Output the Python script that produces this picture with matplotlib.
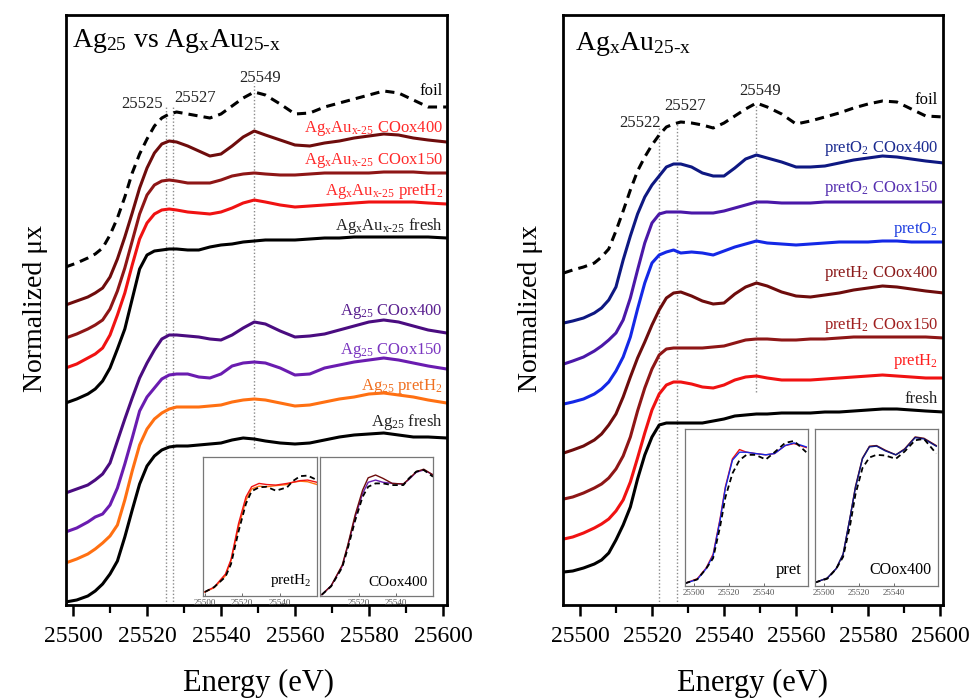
import matplotlib

matplotlib.use("Agg")
import matplotlib.pyplot as plt
from matplotlib.ticker import MultipleLocator

plt.rcParams["font.family"] = ["Liberation Serif", "DejaVu Serif"]
plt.rcParams["mathtext.fontset"] = "custom"
plt.rcParams["mathtext.rm"] = "Liberation Serif"
plt.rcParams["mathtext.it"] = "Liberation Serif:italic"
plt.rcParams["mathtext.bf"] = "Liberation Serif:bold"

# ---- left panel: Ag25 vs AgxAu25-x (offset spectra, arbitrary units) ----
E_LEFT = [25498, 25501, 25504, 25506, 25508, 25510, 25512, 25514, 25516, 25518, 25520, 25522,
          25524, 25526, 25528, 25531, 25534, 25537, 25540, 25543, 25546, 25549, 25552, 25556,
          25560, 25564, 25568, 25572, 25576, 25580, 25584, 25588, 25592, 25596, 25601]
FOIL_LEFT = [338, 342, 347, 351, 357, 370, 387, 408, 432, 451, 466, 479,
             487, 491, 493, 491, 489, 487, 491, 499, 507, 513, 510, 501,
             491, 492, 498, 502, 506, 510, 514, 512, 505, 498, 498]
AGAU_COOX400 = [300, 304, 308, 312, 317, 328, 346, 368, 392, 417, 437, 452,
                461, 464, 463, 459, 454, 449, 451, 459, 468, 474, 470, 465,
                460, 459, 462, 464, 467, 469, 471, 470, 467, 465, 463]
AGAU_COOX150 = [267, 271, 276, 280, 285, 296, 314, 337, 364, 391, 410, 420,
                424, 425, 424, 422, 422, 422, 425, 429, 431, 432, 431, 430,
                430, 431, 432, 432, 432, 432, 433, 433, 433, 432, 432]
AGAU_PRETH2 = [237, 241, 247, 251, 257, 270, 290, 312, 340, 366, 382, 391,
               395, 396, 395, 393, 392, 391, 393, 397, 402, 405, 403, 400,
               398, 399, 400, 401, 402, 403, 403, 403, 403, 402, 401]
AGAU_FRESH = [202, 206, 211, 216, 224, 237, 256, 276, 306, 336, 350, 354,
              355, 356, 356, 355, 355, 358, 360, 361, 363, 364, 365, 365,
              365, 366, 367, 367, 368, 368, 368, 368, 368, 368, 367]
AG25_COOX400 = [112, 116, 120, 125, 131, 142, 164, 186, 207, 227, 242, 255,
                266, 270, 270, 269, 268, 266, 265, 270, 277, 283, 281, 274,
                268, 269, 271, 275, 279, 283, 285, 283, 279, 275, 272]
AG25_COOX150 = [73, 77, 83, 88, 91, 100, 117, 141, 167, 194, 208, 217,
                226, 230, 231, 231, 228, 227, 231, 239, 242, 243, 242, 237,
                230, 231, 237, 240, 243, 245, 247, 245, 242, 239, 236]
AG25_PRETH2 = [42, 46, 51, 56, 62, 69, 80, 105, 134, 160, 176, 186,
               192, 196, 198, 198, 198, 199, 200, 203, 205, 206, 205, 202,
               199, 200, 203, 206, 208, 211, 212, 210, 208, 205, 202]
AG25_FRESH = [3, 5, 9, 14, 21, 31, 44, 68, 95, 121, 139, 149,
              155, 158, 159, 159, 160, 161, 162, 165, 167, 166, 164, 162,
              161, 162, 165, 168, 170, 171, 172, 170, 168, 168, 167]

# ---- right panel: AgxAu25-x ----
E_RIGHT = [25495.5, 25498, 25501, 25504, 25506, 25508, 25510, 25512, 25514, 25516, 25518, 25520,
           25522, 25524, 25526, 25528, 25531, 25534, 25537, 25540, 25543, 25546, 25549, 25552,
           25556, 25560, 25564, 25568, 25572, 25576, 25580, 25584, 25588, 25592, 25596, 25601]
FOIL_RIGHT = [332, 335, 338, 342, 348, 356, 374, 394, 415, 434, 448, 460,
              470, 478, 481, 483, 482, 480, 477, 482, 489, 496, 502, 498,
              491, 481, 484, 488, 492, 497, 501, 504, 503, 496, 489, 488]
PRETO2_COOX400 = [282, 284, 287, 292, 297, 305, 318, 345, 369, 391, 408, 420,
                  429, 438, 441, 441, 438, 432, 429, 429, 437, 446, 450, 447,
                  443, 438, 438, 439, 442, 445, 447, 449, 448, 446, 444, 442]
PRETO2_COOX150 = [241, 244, 248, 254, 259, 265, 272, 285, 307, 335, 362, 382,
                  391, 393, 393, 393, 392, 392, 392, 394, 397, 400, 403, 403,
                  402, 402, 402, 403, 403, 403, 403, 403, 403, 403, 403, 403]
PRETO2 = [201, 203, 206, 211, 216, 223, 234, 248, 268, 296, 322, 342,
          350, 353, 355, 352, 353, 352, 350, 354, 358, 361, 364, 362,
          361, 360, 361, 362, 363, 363, 363, 364, 364, 363, 363, 363]
PRETH2_COOX400 = [152, 155, 159, 165, 171, 180, 191, 208, 228, 247, 263, 280,
                  295, 307, 312, 313, 309, 304, 301, 302, 311, 318, 322, 319,
                  313, 309, 308, 310, 312, 315, 317, 319, 318, 316, 314, 312]
PRETH2_COOX150 = [106, 108, 112, 117, 121, 127, 136, 149, 168, 194, 217, 236,
                  250, 256, 257, 257, 257, 257, 258, 259, 262, 265, 266, 266,
                  265, 265, 266, 266, 267, 268, 268, 268, 268, 268, 268, 267]
PRETH2 = [66, 68, 72, 77, 81, 86, 94, 105, 123, 147, 172, 195,
          211, 220, 223, 223, 221, 218, 217, 220, 225, 228, 229, 227,
          225, 225, 225, 226, 227, 228, 229, 230, 229, 228, 227, 227]
FRESH = [33, 34, 37, 41, 45, 52, 65, 80, 98, 126, 150, 168,
         180, 182, 182, 182, 182, 182, 184, 186, 189, 190, 191, 191,
         192, 192, 192, 193, 193, 194, 195, 196, 196, 195, 194, 193]

# ---- insets (normalized) ----
INSET_E_LEFT = [25500, 25505, 25511, 25514, 25518, 25522, 25525, 25529,
                25533, 25538, 25544, 25547, 25551, 25555, 25560]
INS_L1_DASH = [0.03, 0.074, 0.165, 0.28, 0.57, 0.82, 0.93, 0.965, 0.97, 0.935, 0.965, 1.02, 1.065, 1.07, 1.03]
INS_L1_AG25 = [0.03, 0.068, 0.175, 0.31, 0.61, 0.85, 0.95, 0.975, 0.97, 0.98, 0.99, 1.01, 1.02, 1.015, 0.99]
INS_L1_AGAU = [0.03, 0.074, 0.19, 0.32, 0.64, 0.88, 0.97, 1.0, 0.99, 0.985, 1.0, 1.01, 1.025, 1.03, 1.01]
INS_L2_DASH = [0.006, 0.08, 0.25, 0.42, 0.67, 0.88, 0.97, 1.0, 1.0, 0.985, 0.985, 1.045, 1.106, 1.12, 1.06]
INS_L2_AG25 = [0.006, 0.085, 0.26, 0.44, 0.70, 0.91, 1.01, 1.03, 1.01, 1.0, 0.994, 1.035, 1.10, 1.12, 1.076]
INS_L2_AGAU = [0.006, 0.085, 0.27, 0.45, 0.72, 0.94, 1.05, 1.075, 1.045, 1.0, 0.995, 1.04, 1.105, 1.127, 1.076]

INSET_E_RIGHT = [25495, 25502, 25507, 25511, 25515, 25518, 25522, 25526,
                 25530, 25535, 25541, 25546, 25552, 25557, 25564]
INS_R1_DASH = [0.02, 0.05, 0.13, 0.21, 0.45, 0.67, 0.85, 0.95, 0.99, 0.99, 0.955, 1.01, 1.08, 1.095, 1.01]
INS_R1_H2 = [0.02, 0.055, 0.135, 0.24, 0.51, 0.75, 0.96, 1.03, 1.01, 1.0, 0.99, 1.0, 1.06, 1.075, 1.045]
INS_R1_O2 = [0.02, 0.05, 0.13, 0.23, 0.50, 0.74, 0.95, 1.01, 1.01, 1.0, 0.99, 1.0, 1.06, 1.08, 1.05]
INS_R2_DASH = [0.026, 0.055, 0.128, 0.22, 0.46, 0.69, 0.89, 0.97, 0.99, 0.985, 0.96, 1.015, 1.10, 1.11, 1.0]
INS_R2_H2 = [0.026, 0.06, 0.13, 0.24, 0.52, 0.75, 0.965, 1.055, 1.06, 1.025, 0.99, 1.035, 1.125, 1.115, 1.06]
INS_R2_O2 = [0.026, 0.06, 0.13, 0.24, 0.52, 0.74, 0.96, 1.05, 1.056, 1.02, 0.99, 1.03, 1.12, 1.11, 1.055]

MAROON = "#6e0c0c"
DARKRED = "#8e1616"
RED = "#f01212"
DPURPLE = "#4a0c80"
PURPLE = "#6a1cb0"
ORANGE = "#ff7012"
NAVY = "#0e1882"
INDIGO = "#4a18a8"
BLUE = "#1428e6"

HY = "\u2010"  # typographic hyphen for the subscripts

W, H = 972, 699
fig = plt.figure(figsize=(W / 100, H / 100), dpi=100)


def px_axes(x0, y0, x1, y1):
    return fig.add_axes([x0 / W, 1 - y1 / H, (x1 - x0) / W, (y1 - y0) / H])


def style_main(ax, xlim):
    ax.set_xlim(*xlim)
    ax.set_ylim(0, 590)
    ax.set_yticks([])
    ax.xaxis.set_major_locator(MultipleLocator(20))
    ax.xaxis.set_minor_locator(MultipleLocator(10))
    ax.tick_params(axis="x", which="major", direction="out", length=8, width=1.8,
                   labelsize=17, pad=7, top=False)
    ax.tick_params(axis="x", which="minor", direction="out", length=6, width=1.6, top=False)
    for sp in ax.spines.values():
        sp.set_linewidth(2)


def style_inset(ax, xlim, ylim, ticks):
    ax.set_xlim(*xlim)
    ax.set_ylim(*ylim)
    ax.set_yticks([])
    ax.set_xticks(ticks)
    ax.tick_params(axis="x", direction="in", length=2, width=0.6, labelsize=6.5, pad=2,
                   colors="#555555")
    for sp in ax.spines.values():
        sp.set_linewidth(0.9)
        sp.set_color("#777777")


def vline(ax, x, y0, y1):
    ax.plot([x, x], [y0, y1], color="#8a8a8a", lw=1.0, ls=(0, (1, 1.5)), zorder=1)


def agau(sub):
    return r"Ag$_{\mathrm{x}}$Au$_{\mathrm{" + sub.replace("-", HY) + "}}$"


# ---------------- left panel ----------------
axL = px_axes(66, 15, 447, 605)
style_main(axL, (25498.1, 25601.1))
vline(axL, 25525, 0, 499)
vline(axL, 25527, 0, 499)
vline(axL, 25549, 157, 522)
axL.plot(E_LEFT, FOIL_LEFT, color="black", lw=2.2, ls=(0, (3, 2)))
axL.plot(E_LEFT, AGAU_COOX400, color=MAROON, lw=2.2)
axL.plot(E_LEFT, AGAU_COOX150, color=DARKRED, lw=2.2)
axL.plot(E_LEFT, AGAU_PRETH2, color=RED, lw=2.2)
axL.plot(E_LEFT, AGAU_FRESH, color="black", lw=2.2)
axL.plot(E_LEFT, AG25_COOX400, color=DPURPLE, lw=2.2)
axL.plot(E_LEFT, AG25_COOX150, color=PURPLE, lw=2.2)
axL.plot(E_LEFT, AG25_PRETH2, color=ORANGE, lw=2.2)
axL.plot(E_LEFT, AG25_FRESH, color="black", lw=2.2)

axL.text(0.016, 558, r"Ag$_{25}$ vs " + agau("25-x"), fontsize=20,
         transform=axL.get_yaxis_transform(), va="baseline")
for x, y, s in [(25518.6, 497, "25525"), (25533, 503, "25527"), (25550.5, 523, "25549")]:
    axL.text(x, y, s, fontsize=12, ha="center", va="baseline", color="#222222")

lab_left = [
    (510, "foil", "black"),
    (473, agau("x-25") + " COox400", "#ff2a2a"),
    (441, agau("x-25") + " COox150", "#ff2a2a"),
    (410, agau("x-25") + r" pretH$_2$", "#ff2a2a"),
    (375, agau("x-25") + " fresh", "#222222"),
    (290, r"Ag$_{25}$ COox400", "#5a2090"),
    (251, r"Ag$_{25}$ COox150", "#7a35c0"),
    (215, r"Ag$_{25}$ pretH$_2$", "#f07020"),
    (179, r"Ag$_{25}$ fresh", "#222222"),
]
for y, s, c in lab_left:
    axL.text(25600, y, s, fontsize=12, ha="right", va="baseline", color=c)

# left insets
inL1 = px_axes(203, 457, 317, 596)
style_inset(inL1, (25499, 25560), (-0.006, 1.236), [25500, 25520, 25540])
inL1.plot(INSET_E_LEFT, INS_L1_AG25, color=ORANGE, lw=1.0)
inL1.plot(INSET_E_LEFT, INS_L1_AGAU, color=RED, lw=1.0)
inL1.plot(INSET_E_LEFT, INS_L1_DASH, color="black", lw=1.3, ls=(0, (3, 2)))
inL1.text(0.95, 0.05, r"pretH$_2$", transform=inL1.transAxes, ha="right", va="bottom", fontsize=11)

inL2 = px_axes(320, 457, 433, 596)
style_inset(inL2, (25499, 25560), (-0.006, 1.236), [25520, 25540])
inL2.plot(INSET_E_LEFT, INS_L2_AG25, color=PURPLE, lw=1.0)
inL2.plot(INSET_E_LEFT, INS_L2_AGAU, color=MAROON, lw=1.0)
inL2.plot(INSET_E_LEFT, INS_L2_DASH, color="black", lw=1.3, ls=(0, (3, 2)))
inL2.text(0.95, 0.05, "COox400", transform=inL2.transAxes, ha="right", va="bottom", fontsize=11)

# ---------------- right panel ----------------
axR = px_axes(563, 15, 943, 605)
style_main(axR, (25495.3, 25600.8))
vline(axR, 25522, 0, 478)
vline(axR, 25527, 0, 483)
vline(axR, 25549, 213, 500)
axR.plot(E_RIGHT, FOIL_RIGHT, color="black", lw=2.2, ls=(0, (3, 2)))
axR.plot(E_RIGHT, PRETO2_COOX400, color=NAVY, lw=2.2)
axR.plot(E_RIGHT, PRETO2_COOX150, color=INDIGO, lw=2.2)
axR.plot(E_RIGHT, PRETO2, color=BLUE, lw=2.2)
axR.plot(E_RIGHT, PRETH2_COOX400, color=MAROON, lw=2.2)
axR.plot(E_RIGHT, PRETH2_COOX150, color=DARKRED, lw=2.2)
axR.plot(E_RIGHT, PRETH2, color=RED, lw=2.2)
axR.plot(E_RIGHT, FRESH, color="black", lw=2.2)

axR.text(0.032, 555, agau("25-x"), fontsize=20,
         transform=axR.get_yaxis_transform(), va="baseline")
for x, y, s in [(25516.7, 478, "25522"), (25529.2, 495, "25527"), (25550, 510, "25549")]:
    axR.text(x, y, s, fontsize=12, ha="center", va="baseline", color="#222222")

lab_right = [
    (501, "foil", "black"),
    (453, r"pretO$_2$ COox400", "#1a2a90"),
    (413, r"pretO$_2$ COox150", "#5530b0"),
    (372, r"pretO$_2$", "#2040e0"),
    (328, r"pretH$_2$ COox400", "#8b1a1a"),
    (276, r"pretH$_2$ COox150", "#a02020"),
    (240, r"pretH$_2$", "#ff2020"),
    (202, "fresh", "#222222"),
]
for y, s, c in lab_right:
    axR.text(25599.4, y, s, fontsize=12, ha="right", va="baseline", color=c)

inR1 = px_axes(685, 429, 808, 586)
style_inset(inR1, (25495, 25565), (0, 1.185), [25500, 25520, 25540])
inR1.plot(INSET_E_RIGHT, INS_R1_H2, color=RED, lw=1.0)
inR1.plot(INSET_E_RIGHT, INS_R1_O2, color=BLUE, lw=1.0)
inR1.plot(INSET_E_RIGHT, INS_R1_DASH, color="black", lw=1.3, ls=(0, (3, 2)))
inR1.text(0.95, 0.05, "pret", transform=inR1.transAxes, ha="right", va="bottom", fontsize=12)

inR2 = px_axes(815, 429, 938, 586)
style_inset(inR2, (25495, 25565), (0, 1.185), [25500, 25520, 25540])
inR2.plot(INSET_E_RIGHT, INS_R2_H2, color=MAROON, lw=1.0)
inR2.plot(INSET_E_RIGHT, INS_R2_O2, color=NAVY, lw=1.0)
inR2.plot(INSET_E_RIGHT, INS_R2_DASH, color="black", lw=1.3, ls=(0, (3, 2)))
inR2.text(0.95, 0.05, "COox400", transform=inR2.transAxes, ha="right", va="bottom", fontsize=11.5)

# axis titles
for xc in (35, 530):
    fig.text(xc / W, 1 - 308 / H, "Normalized μx", rotation=90, ha="center", va="center", fontsize=20)
for xc in (258, 752):
    fig.text(xc / W, 1 - 683 / H, "Energy (eV)", ha="center", va="center", fontsize=22)

fig.savefig("out.png", dpi=100)
plt.close(fig)
